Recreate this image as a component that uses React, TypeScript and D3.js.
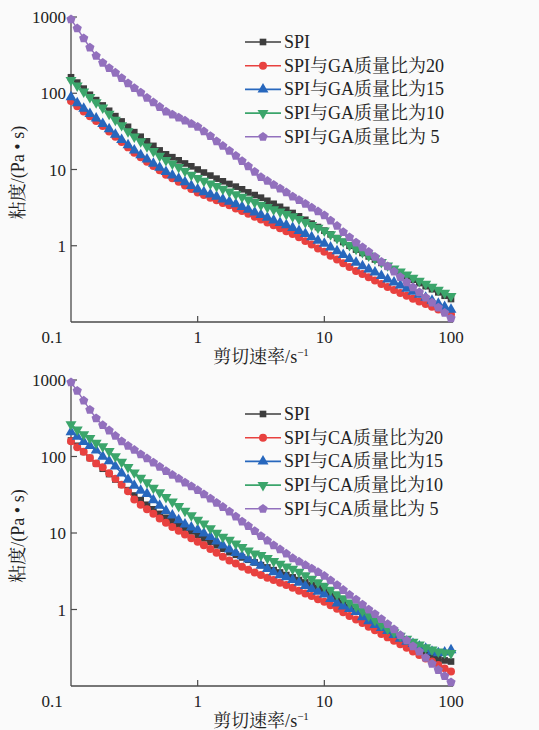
import React from "react";
import * as d3 from "d3";

// Shear rate (s^-1)
const shearRate = [0.1, 0.112, 0.126, 0.141, 0.158, 0.178, 0.2, 0.224, 0.251, 0.282, 0.316, 0.355, 0.398, 0.447, 0.501, 0.562, 0.631, 0.708, 0.794, 0.891,
  1, 1.12, 1.26, 1.41, 1.58, 1.78, 2, 2.24, 2.51, 2.82, 3.16, 3.55, 3.98, 4.47, 5.01, 5.62, 6.31, 7.08, 7.94, 8.91,
  10, 11.2, 12.6, 14.1, 15.8, 17.8, 20, 22.4, 25.1, 28.2, 31.6, 35.5, 39.8, 44.7, 50.1, 56.2, 63.1, 70.8, 79.4, 89.1, 100];

// Panel (a): SPI / GA
const gaSPI = [162, 138, 115, 95.5, 81.3, 69.2, 58.9, 50.1, 42.7, 36.3,
  30.9, 26.9, 23.4, 20.4, 17.8, 15.8, 14.5, 13.2, 12.0, 11.0,
  10.0, 9.12, 8.32, 7.59, 7.00, 6.46, 5.96, 5.50, 5.01, 4.62,
  4.27, 3.89, 3.55, 3.24, 2.95, 2.69, 2.43, 2.19, 1.95, 1.76,
  1.58, 1.41, 1.26, 1.12, 1.00, 0.891, 0.804, 0.724, 0.661, 0.596,
  0.537, 0.484, 0.437, 0.398, 0.359, 0.324, 0.295, 0.269, 0.245, 0.221,
  0.200];
const ga20 = [79.4, 67.6, 57.5, 50.1, 43.2, 37.2, 31.6, 26.9, 22.9, 19.5,
  16.6, 14.5, 12.6, 11.1, 9.77, 8.51, 7.67, 6.92, 6.17, 5.56,
  5.01, 4.62, 4.27, 3.94, 3.63, 3.39, 3.09, 2.85, 2.63, 2.40,
  2.21, 2.02, 1.86, 1.70, 1.55, 1.43, 1.29, 1.15, 1.04, 0.923,
  0.832, 0.741, 0.661, 0.589, 0.525, 0.468, 0.427, 0.385, 0.351, 0.316,
  0.288, 0.263, 0.240, 0.221, 0.202, 0.186, 0.172, 0.158, 0.146, 0.135,
  0.126];
const ga15 = [89.1, 74.1, 63.1, 53.7, 46.8, 39.8, 33.9, 28.8, 24.5, 20.9,
  17.8, 15.5, 13.6, 12.0, 10.6, 9.33, 8.41, 7.59, 6.84, 6.10,
  5.50, 5.07, 4.73, 4.42, 4.07, 3.80, 3.51, 3.24, 2.99, 2.75,
  2.54, 2.34, 2.16, 2.00, 1.86, 1.72, 1.57, 1.43, 1.30, 1.17,
  1.07, 0.955, 0.851, 0.759, 0.676, 0.603, 0.543, 0.490, 0.447, 0.403,
  0.363, 0.331, 0.302, 0.275, 0.251, 0.229, 0.209, 0.191, 0.174, 0.158,
  0.145];
const ga10 = [148, 126, 105, 89.1, 75.9, 64.6, 53.7, 44.7, 38.0, 31.6,
  26.9, 23.4, 20.0, 17.4, 15.1, 13.3, 11.9, 10.7, 9.55, 8.51,
  7.67, 7.08, 6.53, 6.03, 5.56, 5.13, 4.73, 4.37, 4.03, 3.72,
  3.43, 3.20, 2.99, 2.79, 2.60, 2.43, 2.24, 2.04, 1.86, 1.72,
  1.58, 1.41, 1.26, 1.14, 1.02, 0.912, 0.822, 0.741, 0.676, 0.610,
  0.550, 0.501, 0.457, 0.417, 0.380, 0.347, 0.316, 0.288, 0.263, 0.240,
  0.219];
const ga5 = [933, 708, 525, 398, 309, 251, 214, 186, 158, 135,
  117, 102, 87.1, 75.9, 66.1, 57.5, 52.5, 47.9, 43.7, 39.8,
  36.3, 31.6, 27.5, 23.4, 20.4, 17.6, 15.1, 12.9, 11.0, 9.33,
  7.94, 7.08, 6.31, 5.62, 5.01, 4.42, 3.98, 3.55, 3.16, 2.82,
  2.51, 2.14, 1.82, 1.51, 1.29, 1.10, 0.955, 0.832, 0.716, 0.617,
  0.537, 0.457, 0.389, 0.331, 0.285, 0.245, 0.209, 0.180, 0.155, 0.132,
  0.112];

// Panel (b): SPI / CA
const caSPI = [162, 138, 115, 95.5, 81.3, 69.2, 58.9, 50.1, 42.7, 36.3,
  30.9, 26.9, 23.4, 20.4, 17.8, 15.8, 14.3, 12.9, 11.6, 10.5,
  9.44, 8.51, 7.67, 6.92, 6.24, 5.62, 5.19, 4.79, 4.47, 4.12,
  3.80, 3.55, 3.27, 3.05, 2.82, 2.63, 2.43, 2.26, 2.09, 1.93,
  1.78, 1.57, 1.38, 1.22, 1.07, 0.955, 0.841, 0.741, 0.653, 0.575,
  0.513, 0.457, 0.407, 0.359, 0.316, 0.282, 0.257, 0.237, 0.224, 0.216,
  0.209];
const ca20 = [158, 132, 115, 95.5, 81.3, 72.4, 60.3, 51.3, 42.7, 35.1,
  27.5, 23.4, 20.4, 17.8, 15.5, 13.6, 12.0, 10.7, 9.55, 8.51,
  7.69, 6.92, 6.17, 5.50, 4.90, 4.37, 3.98, 3.63, 3.31, 3.05,
  2.82, 2.60, 2.43, 2.24, 2.09, 1.93, 1.76, 1.62, 1.50, 1.36,
  1.26, 1.14, 1.02, 0.923, 0.822, 0.741, 0.668, 0.596, 0.537, 0.479,
  0.432, 0.389, 0.351, 0.316, 0.282, 0.254, 0.229, 0.209, 0.188, 0.170,
  0.155];
const ca15 = [209, 182, 155, 138, 120, 100, 87.1, 74.1, 60.3, 50.1,
  41.7, 35.9, 32.4, 26.9, 22.9, 19.5, 17.0, 14.8, 13.0, 11.9,
  11.0, 9.89, 8.91, 7.76, 6.92, 6.10, 5.50, 5.01, 4.52, 4.12,
  3.76, 3.39, 3.09, 2.82, 2.66, 2.45, 2.24, 2.04, 1.86, 1.72,
  1.58, 1.38, 1.20, 1.10, 1.02, 0.933, 0.794, 0.708, 0.631, 0.575,
  0.525, 0.468, 0.417, 0.380, 0.355, 0.331, 0.309, 0.282, 0.269, 0.275,
  0.295];
const ca10 = [263, 224, 195, 174, 151, 135, 117, 100, 85.1, 72.4,
  61.7, 52.5, 45.7, 38.9, 33.9, 29.5, 25.7, 22.4, 19.5, 17.0,
  14.8, 13.2, 11.5, 10.0, 8.91, 8.13, 7.24, 6.53, 5.89, 5.37,
  5.13, 4.68, 4.27, 3.94, 3.63, 3.39, 3.09, 2.79, 2.51, 2.26,
  2.04, 1.80, 1.58, 1.40, 1.23, 1.10, 0.955, 0.832, 0.724, 0.631,
  0.556, 0.501, 0.452, 0.412, 0.376, 0.347, 0.320, 0.299, 0.282, 0.272,
  0.269];
const ca5 = [933, 724, 537, 407, 316, 257, 219, 186, 158, 138,
  122, 107, 94.4, 83.2, 73.3, 64.6, 57.5, 51.3, 45.7, 40.7,
  36.3, 32.0, 28.2, 24.8, 21.9, 19.1, 16.4, 14.1, 12.3, 10.6,
  9.12, 7.94, 6.92, 6.10, 5.37, 4.68, 4.22, 3.80, 3.43, 3.09,
  2.75, 2.40, 2.09, 1.80, 1.55, 1.35, 1.16, 1.00, 0.871, 0.750,
  0.646, 0.550, 0.462, 0.394, 0.331, 0.282, 0.234, 0.195, 0.162, 0.135,
  0.112];

const ratioLabels = ["20", "15", "10", " 5"];
const yTicks = [1, 10, 100, 1000];
const xTicks = [1, 10, 100];

const colors = ["#3d3d3d", "#e8413f", "#2767bd", "#3ba56b", "#9270bd"];
const FONT = '"Liberation Serif", "Times New Roman", "Noto Serif CJK SC", "Noto Sans CJK SC", serif';

const symbolPentagon = {
  draw(ctx: any, size: number) {
    const r = Math.sqrt(size / (2.5 * Math.sin((2 * Math.PI) / 5)));
    for (let k = 0; k < 5; k++) {
      const a = -Math.PI / 2 + (k * 2 * Math.PI) / 5;
      const x = r * Math.cos(a), y = r * Math.sin(a);
      if (k === 0) ctx.moveTo(x, y); else ctx.lineTo(x, y);
    }
    ctx.closePath();
  },
};

const markers = [
  { type: d3.symbolSquare, size: 44, rot: 0 },
  { type: d3.symbolCircle, size: 50, rot: 0 },
  { type: d3.symbolTriangle, size: 52, rot: 0 },
  { type: d3.symbolTriangle, size: 52, rot: 180 },
  { type: symbolPentagon, size: 56, rot: 0 },
];

const xScale = d3.scaleLog().domain([0.1, 100]).range([71, 451]);

function Panel({ top, bottom, agent, series, legendY, tickY, titleY }: any) {
  const yScale = d3.scaleLog().domain([0.1, 1000]).range([bottom, top]);
  const line = d3.line<number>().x((_, i) => xScale(shearRate[i])).y((d) => yScale(d));
  const names = ["SPI", ...ratioLabels.map((r) => `SPI与${agent}质量比为${r}`)];
  const axisColor = "#4a4a4a";
  const x0 = xScale.range()[0];
  return (
    <g>
      {/* axes */}
      <line x1={x0} x2={x0} y1={top} y2={bottom} stroke={axisColor} strokeWidth={1.3} />
      <line x1={x0} x2={xScale.range()[1] + 2} y1={bottom} y2={bottom} stroke={axisColor} strokeWidth={1.3} />
      {yTicks.map((t) => (
        <g key={"y" + t}>
          <line x1={x0} x2={x0 + 6} y1={yScale(t)} y2={yScale(t)} stroke={axisColor} strokeWidth={1.2} />
          <text x={x0 - 5} y={yScale(t) + 6} textAnchor="end" fontSize={17} fontFamily={FONT} fill="#222">{t}</text>
        </g>
      ))}
      {xTicks.map((t) => (
        <g key={"x" + t}>
          <line x1={xScale(t)} x2={xScale(t)} y1={bottom} y2={bottom - 6} stroke={axisColor} strokeWidth={1.2} />
          <text x={xScale(t)} y={tickY} textAnchor="middle" fontSize={17} fontFamily={FONT} fill="#222">{t}</text>
        </g>
      ))}
      <text x={xScale(0.1) - 19} y={tickY} textAnchor="middle" fontSize={17} fontFamily={FONT} fill="#222">0.1</text>
      {/* axis titles */}
      <text x={261} y={titleY} textAnchor="middle" fontSize={18} fontFamily={FONT} fill="#222">
        剪切速率/s<tspan dy={-7} fontSize={11}>−1</tspan>
      </text>
      <text transform={`translate(24,${(top + bottom) / 2 + 3}) rotate(-90)`} textAnchor="middle" fontSize={18} fontFamily={FONT} fill="#222">
        粘度/(Pa • s)
      </text>
      {/* series */}
      {series.map((vals: number[], si: number) => {
        const m = markers[si];
        const sym = d3.symbol().type(m.type as any).size(m.size)()!;
        return (
          <g key={si}>
            <path d={line(vals)!} fill="none" stroke={colors[si]} strokeWidth={1.4} />
            {vals.map((v, i) => (
              <path key={i} d={sym} fill={colors[si]}
                transform={`translate(${xScale(shearRate[i])},${yScale(v)}) rotate(${m.rot})`} />
            ))}
          </g>
        );
      })}
      {/* legend */}
      {names.map((n, si) => {
        const m = markers[si];
        const sym = d3.symbol().type(m.type as any).size(m.size)()!;
        const ly = legendY + si * 23.7;
        return (
          <g key={"l" + si}>
            <line x1={245} x2={281} y1={ly} y2={ly} stroke={colors[si]} strokeWidth={1.6} />
            <path d={sym} fill={colors[si]} transform={`translate(263,${ly}) rotate(${m.rot})`} />
            <text x={284} y={ly + 6} fontSize={18} fontFamily={FONT} fill="#222">{n}</text>
          </g>
        );
      })}
    </g>
  );
}

export default function App() {
  return (
    <svg width={539} height={730} style={{ position: "absolute", left: 0, top: 0, background: "#fafafa" }}>
      <rect width={539} height={730} fill="#fafafa" />
      <Panel top={17} bottom={322} agent="GA" series={[gaSPI, ga20, ga15, ga10, ga5]} legendY={42} tickY={343} titleY={363} />
      <Panel top={380} bottom={686} agent="CA" series={[caSPI, ca20, ca15, ca10, ca5]} legendY={414} tickY={707} titleY={727} />
    </svg>
  );
}
